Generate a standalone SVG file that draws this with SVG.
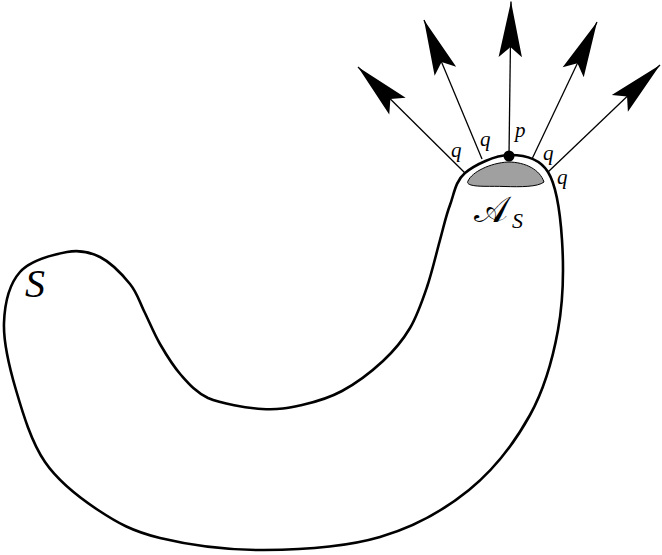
<svg xmlns="http://www.w3.org/2000/svg" width="662" height="555" viewBox="0 0 662 555">
<style>
.outline{fill:none;stroke:#000;stroke-width:2.6;stroke-linejoin:round}
.arr{fill:none;stroke:#000;stroke-width:1.3}
.lbl{font-family:"Liberation Serif","DejaVu Serif",serif;font-style:italic;fill:#000}
</style>
<defs>
<marker id="ah" markerUnits="userSpaceOnUse" markerWidth="60" markerHeight="30" viewBox="-52 -12 54 24" refX="0" refY="0" orient="auto">
<path d="M0,0 L-50,-10.5 L-41,0 L-50,10.5 Z" fill="#000"/>
</marker>
</defs>
<rect width="662" height="555" fill="#fff"/>
<g id="S">
<path class="outline" d="M509,155 C522.8,154.8 539.2,157.8 548,172 C556.8,186.2 560.3,213.7 562,240 C563.7,266.3 563.3,300.8 558,330 C552.7,359.2 544.8,388.3 530,415 C515.2,441.7 494,469.7 469,490 C444,510.3 414.2,527 380,537 C345.8,547 300.7,549.8 264,550 C227.3,550.2 187.7,544.7 160,538 C132.3,531.3 117.2,522.7 98,510 C78.8,497.3 58.7,482 45,462 C31.3,442 22.8,413.2 16,390 C9.2,366.8 3.3,342.7 4,323 C4.7,303.3 9.5,283.8 20,272 C30.5,260.2 53.7,254.5 67,252 C80.3,249.5 89.5,251.7 100,257 C110.5,262.3 122.7,275 130,284 C137.3,293 139,301 144,311 C149,321 153.8,333.3 160,344 C166.2,354.7 173,366 181,375 C189,384 196,392.3 208,398 C221.5,403.7 246.3,407.8 262,409 C277.7,410.2 288.7,408 302,405 C315.3,402 328.5,398.3 342,391 C355.5,383.7 371.7,371.5 383,361 C394.3,350.5 402.7,340.3 410,328 C417.3,315.7 422,301.7 427,287 C432,272.3 436.2,253.7 440,240 C443.8,226.3 445.8,216.2 450,205 C454.2,193.8 455.2,181.3 465,173 C474.8,164.7 495.2,155.2 509,155 Z"/>
<text class="lbl" x="25" y="297" font-size="40">S</text>
</g>
<g id="AS">
<path d="M468,181 C472,172 490,163 508,162 C526,162 540,170 544,182 C538,187 520,187 505,186.5 C490,186 478,187 471,185 C468,184 467,183 468,181 Z" fill="#a0a0a0" stroke="#000" stroke-width="1"/>
<text class="lbl" x="474" y="222" font-size="36" font-family="'DejaVu Serif','DejaVu Sans',serif" style="font-style:normal">𝒜</text>
<text class="lbl" x="512" y="228" font-size="22">S</text>
</g>
<g id="connectors">
<line class="arr" x1="465" y1="173" x2="358" y2="67" marker-end="url(#ah)"/>
<line class="arr" x1="482" y1="159" x2="424" y2="20" marker-end="url(#ah)"/>
<line class="arr" x1="509" y1="155" x2="511" y2="1.5" marker-end="url(#ah)"/>
<line class="arr" x1="532" y1="159" x2="597" y2="22" marker-end="url(#ah)"/>
<line class="arr" x1="548" y1="172" x2="660" y2="65" marker-end="url(#ah)"/>
</g>
<g id="p">
<circle cx="509" cy="156" r="5.5" fill="#000"/>
<text class="lbl" x="515" y="137" font-size="21">p</text>
</g>
<g id="labels">
<text class="lbl" x="451" y="157" font-size="21">q</text>
<text class="lbl" x="480" y="146" font-size="21">q</text>
<text class="lbl" x="543" y="160" font-size="21">q</text>
<text class="lbl" x="557" y="184" font-size="21">q</text>
</g>
</svg>
